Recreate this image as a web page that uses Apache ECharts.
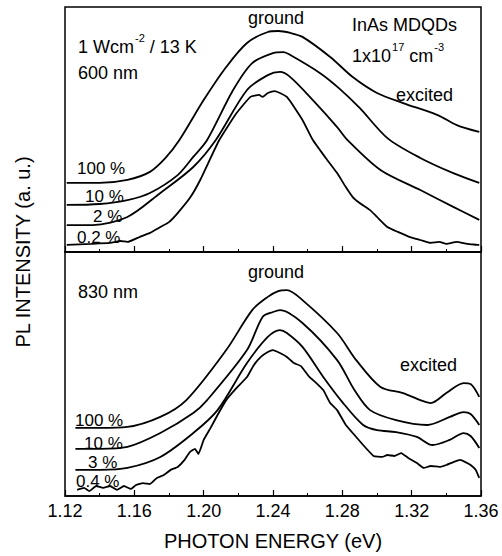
<!DOCTYPE html>
<html><head><meta charset="utf-8">
<script src="https://cdn.jsdelivr.net/npm/echarts@6/dist/echarts.min.js"></script>
<style>html,body{margin:0;padding:0;background:#fff}#c{width:502px;height:556px}</style>
</head><body><div id="c"></div>
<script>
// ---- x axis ----
const xMin = 1.12, xMax = 1.36, xStep = 0.04;
const xTickLabels = ['1.12','1.16','1.20','1.24','1.28','1.32','1.36'];

// ---- top panel (600 nm excitation) ----
const eTop100 = [1.121,1.140,1.156,1.169,1.178,1.186,1.200,1.213,1.225,1.237,1.243,1.250,1.257,1.273,1.286,1.300,1.315,1.335,1.346,1.359];
const top100  = [2.82,2.82,2.94,3.27,3.84,4.57,6.20,7.55,8.53,8.98,9.02,8.94,8.78,7.96,7.14,6.49,6.08,5.59,5.18,4.90];
const eTop10  = [1.121,1.140,1.156,1.169,1.185,1.194,1.202,1.217,1.228,1.240,1.246,1.250,1.267,1.278,1.290,1.306,1.325,1.344,1.359];
const top10   = [1.92,1.96,2.12,2.41,3.14,3.88,4.57,6.61,7.71,8.12,8.16,8.04,7.31,6.69,5.88,4.65,3.84,3.22,2.82];
const eTop2   = [1.121,1.136,1.156,1.175,1.194,1.207,1.225,1.237,1.244,1.250,1.263,1.277,1.283,1.302,1.325,1.344,1.359];
const top2    = [1.10,1.10,1.43,2.41,3.47,4.57,6.61,7.22,7.35,7.14,6.20,5.10,4.57,3.35,2.53,1.84,1.31];
const eTop02  = [1.121,1.135,1.146,1.152,1.156,1.163,1.169,1.175,1.180,1.185,1.192,1.198,1.209,1.219,1.227,1.232,1.234,1.237,1.241,1.248,1.257,1.263,1.270,1.277,1.282,1.286,1.290,1.296,1.300,1.306,1.312,1.319,1.325,1.331,1.336,1.340,1.346,1.352,1.359];
const top02   = [0.29,0.33,0.37,0.45,0.41,0.61,0.78,1.02,1.22,1.59,2.20,2.94,4.57,5.67,6.33,6.41,6.33,6.49,6.57,6.33,5.39,4.57,3.88,3.22,2.65,2.24,2.00,1.71,1.43,1.02,0.82,0.61,0.49,0.37,0.41,0.33,0.41,0.33,0.29];

// ---- bottom panel (830 nm excitation) ----
const eBot100 = [1.126,1.140,1.156,1.175,1.190,1.213,1.228,1.237,1.243,1.248,1.257,1.277,1.288,1.302,1.315,1.325,1.331,1.340,1.350,1.354,1.359];
const bot100  = [2.79,2.79,2.83,3.24,3.93,5.98,7.62,8.16,8.40,8.44,8.03,6.68,5.57,4.47,4.22,3.93,3.81,4.22,4.63,4.59,4.06];
const eBot10  = [1.126,1.140,1.156,1.175,1.194,1.202,1.225,1.234,1.240,1.244,1.257,1.277,1.287,1.296,1.311,1.329,1.342,1.350,1.354,1.359];
const bot10   = [1.93,1.93,2.01,2.58,3.40,3.93,5.98,7.34,7.54,7.62,7.09,5.57,4.34,3.52,3.11,2.91,3.24,3.44,3.36,2.91];
const eBot3   = [1.126,1.140,1.156,1.175,1.194,1.208,1.225,1.237,1.244,1.248,1.257,1.269,1.280,1.292,1.300,1.311,1.323,1.332,1.342,1.350,1.354,1.359];
const bot3    = [1.07,1.07,1.15,1.60,2.58,3.52,5.45,6.52,6.80,6.68,6.11,4.88,3.85,2.91,2.70,2.62,2.42,2.09,2.30,2.58,2.46,1.97];
const eBot04  = [1.127,1.131,1.134,1.138,1.142,1.146,1.150,1.154,1.158,1.161,1.165,1.169,1.173,1.177,1.181,1.185,1.189,1.192,1.195,1.197,1.200,1.204,1.208,1.213,1.219,1.225,1.229,1.233,1.237,1.240,1.244,1.248,1.252,1.256,1.261,1.265,1.269,1.273,1.277,1.282,1.287,1.292,1.298,1.303,1.306,1.310,1.314,1.318,1.323,1.327,1.331,1.336,1.340,1.344,1.348,1.351,1.354,1.357,1.359];
const bot04   = [0.25,0.33,0.20,0.41,0.33,0.41,0.25,0.41,0.29,0.45,0.53,0.49,0.74,0.86,1.07,1.19,1.48,1.80,1.93,1.72,2.30,2.79,3.32,3.93,4.43,4.88,5.37,5.70,5.90,5.98,5.86,5.70,5.45,5.33,4.88,4.63,4.34,3.81,3.52,2.91,2.50,2.09,1.64,1.60,1.68,1.64,1.76,1.56,1.35,1.15,1.23,1.19,1.27,1.39,1.48,1.39,1.27,1.07,0.74];

const pairs = (xs, ys) => xs.map((x, i) => [x, ys[i]]);
const FONT = "'Liberation Sans', Arial, sans-serif";

function lineSeries(name, xi, xs, ys, smooth) {
  return {
    name, type: 'line', xAxisIndex: xi, yAxisIndex: xi,
    data: pairs(xs, ys), showSymbol: false, smooth: smooth,
    lineStyle: { color: '#000', width: 1.8 }, silent: true, animation: false
  };
}

function xAxisCfg(gi, showLabels) {
  return {
    type: 'value', gridIndex: gi, min: xMin, max: xMax, interval: xStep,
    axisLine: { show: true, lineStyle: { color: '#000', width: 1.5 } },
    axisTick: { show: true, inside: true, length: 6, lineStyle: { color: '#000', width: 1.2 } },
    minorTick: { show: true, splitNumber: 2, length: 3, lineStyle: { color: '#000', width: 1 } },
    splitLine: { show: false },
    axisLabel: {
      show: showLabels, color: '#000', fontFamily: FONT, fontSize: 18, margin: 6,
      formatter: v => { const s = v.toFixed(2); return xTickLabels.indexOf(s) >= 0 ? s : ''; }
    }
  };
}
function yAxisCfg(gi) {
  return { type: 'value', gridIndex: gi, min: 0, max: 10, show: false };
}

function txt(x, y, text, size, extra) {
  return {
    type: 'text', x, y, silent: true,
    style: Object.assign({ text, font: `${size}px ${FONT}`, fill: '#000', align: 'left', verticalAlign: 'middle' }, extra || {})
  };
}
const supRich = {
  s: { fontSize: 11, fontFamily: FONT, verticalAlign: 'top', padding: [0, 0, 0, 1] },
  n: { fontSize: 18, fontFamily: FONT, verticalAlign: 'bottom', padding: [5, 0, 0, 0] }
};

const chart = echarts.init(document.getElementById('c'), null, { renderer: 'svg', width: 502, height: 556 });
chart.setOption({
  animation: false,
  backgroundColor: '#fff',
  grid: [
    { left: 65, top: 7, width: 416, height: 245, show: true, borderColor: '#000', borderWidth: 1.5, backgroundColor: 'transparent' },
    { left: 65, top: 252, width: 416, height: 244, show: true, borderColor: '#000', borderWidth: 1.5, backgroundColor: 'transparent' }
  ],
  xAxis: [xAxisCfg(0, false), xAxisCfg(1, true)],
  yAxis: [yAxisCfg(0), yAxisCfg(1)],
  series: [
    lineSeries('600nm 100%', 0, eTop100, top100, 0.3),
    lineSeries('600nm 10%', 0, eTop10, top10, 0.3),
    lineSeries('600nm 2%', 0, eTop2, top2, 0.3),
    lineSeries('600nm 0.2%', 0, eTop02, top02, 0.15),
    lineSeries('830nm 100%', 1, eBot100, bot100, 0.3),
    lineSeries('830nm 10%', 1, eBot10, bot10, 0.3),
    lineSeries('830nm 3%', 1, eBot3, bot3, 0.3),
    lineSeries('830nm 0.4%', 1, eBot04, bot04, 0.1)
  ],
  graphic: [
    // top panel
    txt(78, 44, '{n|1 Wcm}{s|-2}{n| / 13 K}', 18, { rich: supRich }),
    txt(78, 73, '600 nm', 18),
    txt(276, 18, 'ground', 18, { align: 'center' }),
    txt(352, 25, 'InAs MDQDs', 18),
    txt(352, 53, '{n|1x10}{s|17}{n| cm}{s|-3}', 18, { rich: supRich }),
    txt(396, 95, 'excited', 18),
    txt(77, 168, '100 %', 17),
    txt(85, 196, '10 %', 17),
    txt(93, 216, '2 %', 17),
    txt(77, 237, '0.2 %', 17),
    // bottom panel
    txt(276, 272, 'ground', 18, { align: 'center' }),
    txt(78, 292, '830 nm', 18),
    txt(400, 365, 'excited', 18),
    txt(75, 420, '100 %', 17),
    txt(84, 443, '10 %', 17),
    txt(88, 462, '3 %', 17),
    txt(76, 481, '0.4 %', 17),
    // axis titles
    txt(273, 541, 'PHOTON ENERGY (eV)', 20, { align: 'center' }),
    Object.assign(txt(23, 252, 'PL INTENSITY (a. u.)', 20, { align: 'center' }), { rotation: Math.PI / 2 })
  ]
});
</script>
</body></html>
